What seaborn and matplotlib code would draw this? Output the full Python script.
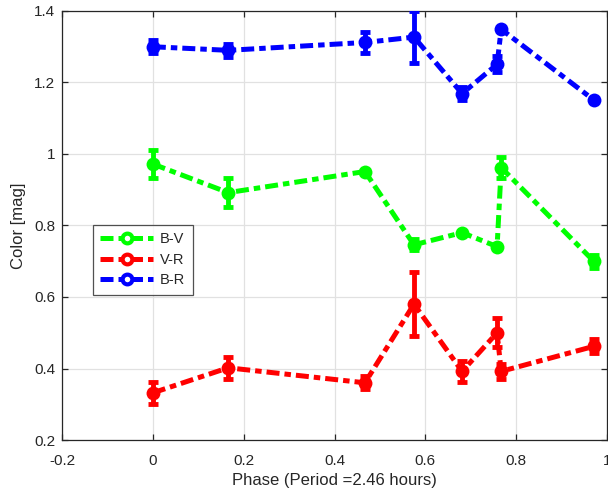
import numpy as np
import pandas as pd
import seaborn as sns
import matplotlib.pyplot as plt
from matplotlib.lines import Line2D

# phase of each observation
phase = [0.0, 0.166, 0.467, 0.575, 0.681, 0.758, 0.767, 0.971]

# colour indices [mag] and their errors
bv = [0.972, 0.892, 0.951, 0.746, 0.780, 0.741, 0.962, 0.700]
bv_err = [0.040, 0.040, 0.0, 0.015, 0.0, 0.0, 0.030, 0.018]
vr = [0.332, 0.402, 0.360, 0.580, 0.392, 0.500, 0.392, 0.462]
vr_err = [0.030, 0.030, 0.018, 0.090, 0.030, 0.040, 0.020, 0.020]
br = [1.300, 1.290, 1.312, 1.327, 1.169, 1.251, 1.349, 1.151]
br_err = [0.018, 0.018, 0.030, 0.072, 0.018, 0.022, 0.0, 0.0]

series_names = ["B-V", "V-R", "B-R"]
series_colors = ["#00ff00", "#ff0000", "#0000ff"]

sns.set_theme(style="whitegrid")
plt.rcParams["font.family"] = ["Liberation Sans", "DejaVu Sans"]

fig = plt.figure(figsize=(6.08, 4.95), dpi=100)
ax = fig.add_axes([62 / 608, 55 / 495, 545 / 608, 429 / 495])

dash = (0, (2.6, 1.0, 1.3, 1.0))
data = [(bv, bv_err), (vr, vr_err), (br, br_err)]
for name, col, (vals, errs) in zip(series_names, series_colors, data):
    ax.errorbar(phase, vals, yerr=errs, fmt="none", ecolor=col,
                elinewidth=3.5, capsize=3.5, capthick=3.5, zorder=3)
    df = pd.DataFrame({"phase": phase, "color": vals})
    sns.lineplot(data=df, x="phase", y="color", ax=ax, color=col,
                 linewidth=3.6, linestyle=dash, marker="o", markersize=10,
                 markeredgewidth=0, sort=False, zorder=4)

ax.set_xlim(-0.2, 1.0)
ax.set_ylim(0.2, 1.4)
ax.set_xticks([-0.2, 0, 0.2, 0.4, 0.6, 0.8, 1.0])
ax.set_xticklabels(["-0.2", "0", "0.2", "0.4", "0.6", "0.8", "1"])
ax.set_yticks([0.2, 0.4, 0.6, 0.8, 1.0, 1.2, 1.4])
ax.set_yticklabels(["0.2", "0.4", "0.6", "0.8", "1", "1.2", "1.4"])

ax.grid(True, color="#e1e1e1", linewidth=0.9)
for sp in ax.spines.values():
    sp.set_color("#262626")
    sp.set_linewidth(0.9)
ax.tick_params(direction="in", length=4, width=0.9, color="#262626",
               top=True, right=True, bottom=True, left=True,
               labelsize=11, labelcolor="#262626", pad=5)
ax.tick_params(axis="x", pad=10)
ax.set_xlabel("Phase (Period =2.46 hours)", fontsize=12, color="#262626", labelpad=4)
ax.set_ylabel("Color [mag]", fontsize=12, color="#262626", labelpad=6)

handles = [Line2D([0], [0], color=c, linewidth=3.6, linestyle=(0, (2.6, 1.0, 1.3, 1.0)),
                  marker="o", markersize=7, markerfacecolor="white",
                  markeredgecolor=c, markeredgewidth=3)
           for c in series_colors]
leg = ax.legend(handles, series_names, loc="upper left",
                bbox_to_anchor=(31 / 545, 215 / 429), borderaxespad=0,
                fontsize=10.5, frameon=True, fancybox=False, handlelength=3.6,
                borderpad=0.5, labelspacing=0.45, handletextpad=0.5)
leg.get_frame().set_edgecolor("#262626")
leg.get_frame().set_linewidth(0.9)
for t in leg.get_texts():
    t.set_color("#262626")

fig.savefig("out.png", dpi=100)
